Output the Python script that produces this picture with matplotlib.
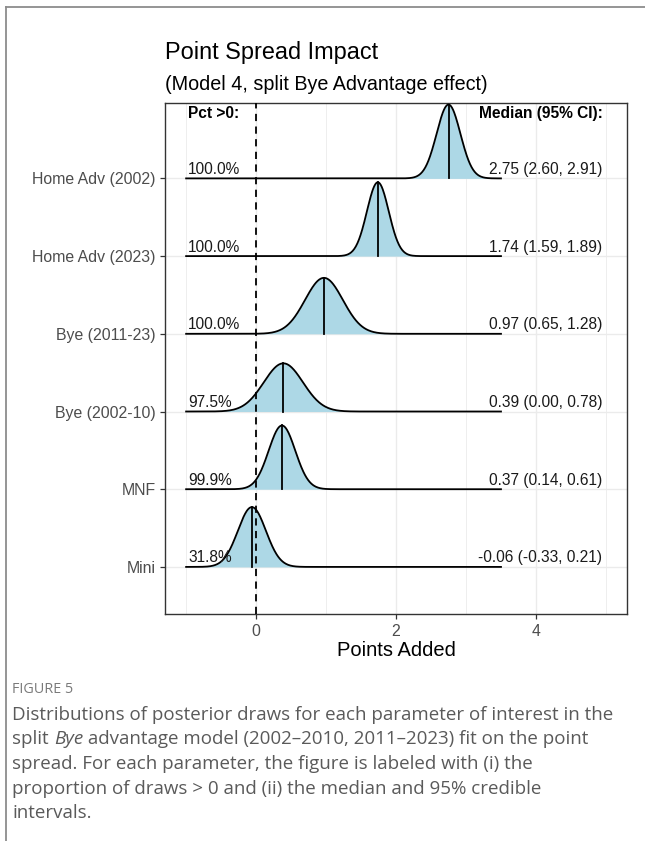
import numpy as np
import matplotlib
matplotlib.use("Agg")
import matplotlib.pyplot as plt
from matplotlib.lines import Line2D

plt.rcParams['font.family'] = ['Liberation Sans', 'DejaVu Sans']

# posterior summaries, top row first
params = ['Home Adv (2002)', 'Home Adv (2023)', 'Bye (2011-23)',
          'Bye (2002-10)', 'MNF', 'Mini']
medians = [2.75, 1.74, 0.97, 0.39, 0.37, -0.06]
ci_low = [2.60, 1.59, 0.65, 0.00, 0.14, -0.33]
ci_high = [2.91, 1.89, 1.28, 0.78, 0.61, 0.21]
pct_pos = [100.0, 100.0, 100.0, 97.5, 99.9, 31.8]
# spread and peak height of each ridge (in row units)
ridge_sd = [0.17, 0.156, 0.27, 0.28, 0.19, 0.20]
ridge_peak = [0.95, 0.95, 0.72, 0.62, 0.82, 0.77]

x_lo, x_hi = -1.0, 3.5

fig = plt.figure(figsize=(6.45, 8.41), dpi=100)
ax = fig.add_axes([0.256, 0.270, 0.716, 0.6075])

n = len(params)
rows = np.arange(n)[::-1]  # top row gets the highest y
xs = np.linspace(x_lo, x_hi, 600)

for i, (name, m, sd, pk) in enumerate(zip(params, medians, ridge_sd, ridge_peak)):
    y0 = rows[i]
    dens = pk * np.exp(-0.5 * ((xs - m) / sd) ** 2)
    z = 3 + i
    ax.fill_between(xs, y0, y0 + dens, color='#ADD8E6', lw=0, zorder=z)
    ax.plot(xs, y0 + dens, color='black', lw=1.3, zorder=z + 0.1)
    ax.plot([m, m], [y0, y0 + pk], color='black', lw=1.3, zorder=z + 0.1)
    ax.text(-0.97, y0 + 0.02, f'{pct_pos[i]:.1f}%', ha='left', va='bottom',
            fontsize=11.2, color='#1a1a1a', zorder=20)
    ax.text(4.95, y0 + 0.02, f'{m:.2f} ({ci_low[i]:.2f}, {ci_high[i]:.2f})',
            ha='right', va='bottom', fontsize=11.2, color='#1a1a1a', zorder=20)

ax.text(-0.97, 5.84, 'Pct >0:', ha='left', va='center', fontsize=11.2,
        fontweight='bold', zorder=20)
ax.text(4.95, 5.84, 'Median (95% CI):', ha='right', va='center', fontsize=11.2,
        fontweight='bold', zorder=20)

ax.axvline(0, color='black', lw=1.3, ls=(0, (4, 3)), zorder=30)

ax.set_xlim(-1.3, 5.3)
ax.set_ylim(-0.605, 5.97)
ax.set_xticks([0, 2, 4])
ax.set_xticks([-1, 1, 3, 5], minor=True)
ax.set_yticks(rows)
ax.set_yticklabels(params)
ax.tick_params(axis='both', which='major', length=3.5, width=0.9,
               color='#333333', labelcolor='#4d4d4d', labelsize=11.4)
ax.tick_params(axis='x', which='minor', length=0)
ax.grid(True, which='major', color='#EBEBEB', lw=1.0, zorder=0)
ax.grid(True, which='minor', axis='x', color='#EBEBEB', lw=0.6, zorder=0)
ax.set_axisbelow(True)
for s in ax.spines.values():
    s.set_color('#333333')
    s.set_linewidth(1.0)
ax.set_xlabel('Points Added', fontsize=14.5, labelpad=2)

fig.text(0.256, 0.938, 'Point Spread Impact', fontsize=16.9, va='center', ha='left')
fig.text(0.256, 0.900, '(Model 4, split Bye Advantage effect)', fontsize=14.2,
         va='center', ha='left')

# page frame around the figure
fig.add_artist(Line2D([0.0095, 0.0095], [0.0, 0.9917], transform=fig.transFigure,
                      color='#8c8c8c', lw=1.3))
fig.add_artist(Line2D([0.0095, 1.0], [0.9917, 0.9917], transform=fig.transFigure,
                      color='#8c8c8c', lw=1.3))

cap_font = ['Open Sans', 'DejaVu Sans']
cap_size = 13.5
cap_col = '#5a5a5a'
fig.text(0.019, 0.180, 'FIGURE 5', fontsize=10.4, color='#7a7a7a', family=cap_font,
         va='center', ha='left')

# caption lines; the second one has an italic word, so it is built in pieces
caption = [
    [('Distributions of posterior draws for each parameter of interest in the', 'normal')],
    [('split ', 'normal'), ('Bye', 'italic'),
     (' advantage model (2002\u20132010, 2011\u20132023) fit on the point', 'normal')],
    [('spread. For each parameter, the figure is labeled with (i) the', 'normal')],
    [('proportion of draws > 0 and (ii) the median and 95% credible', 'normal')],
    [('intervals.', 'normal')],
]
renderer = fig.canvas.get_renderer()
for k, pieces in enumerate(caption):
    x = 0.019
    y = 0.150 - k * 0.0292
    for txt, style in pieces:
        t = fig.text(x, y, txt, fontsize=cap_size, color=cap_col, family=cap_font,
                     style=style, va='center', ha='left')
        bb = t.get_window_extent(renderer=renderer)
        x += bb.width / fig.bbox.width

fig.savefig('out.png', dpi=100)
